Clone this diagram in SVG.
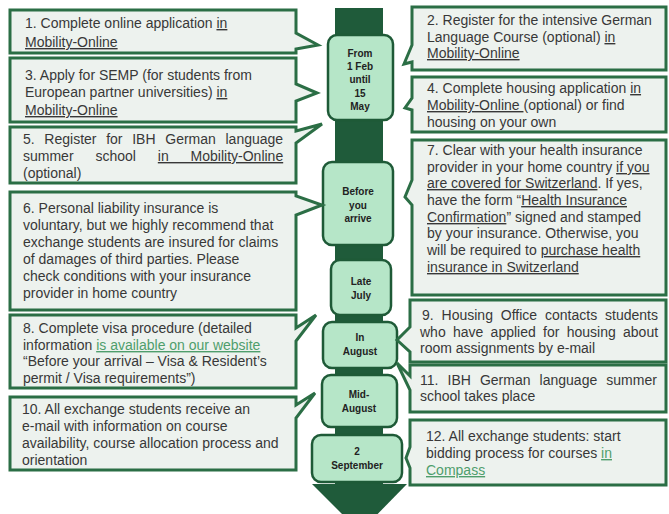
<svg xmlns="http://www.w3.org/2000/svg" width="669" height="514" viewBox="0 0 669 514">
<style>
.co{fill:#edf2ee;stroke:#2b6e45;stroke-width:3;stroke-linejoin:miter}
.dt{fill:#b6e6c8;stroke:#1e5a37;stroke-width:2.5}
.t{font-family:"Liberation Sans",Arial,sans-serif;font-size:14px;fill:#383838}
.d{font-family:"Liberation Sans",Arial,sans-serif;font-size:10px;font-weight:bold;fill:#222;text-anchor:middle}
.u{text-decoration:underline}
.g{fill:#4f9e6c;text-decoration:underline}
.bar{fill:#1f5b3a}
</style>
<rect width="669" height="514" fill="#ffffff"/>
<g id="connectors">
<rect class="bar" x="335" y="8" width="48" height="482"/>
<polygon class="bar" points="312,484 407,484 360,532"/>
</g>
<g id="d1"><rect class="dt" x="328" y="35" width="65" height="85" rx="9"/>
<text class="d" x="360"><tspan x="360" y="57">From</tspan><tspan x="360" y="70">1 Feb</tspan><tspan x="360" y="83">until</tspan><tspan x="360" y="97">15</tspan><tspan x="360" y="110">May</tspan></text></g>
<g id="d2"><rect class="dt" x="323" y="162" width="70" height="83" rx="9"/>
<text class="d"><tspan x="358" y="195">Before</tspan><tspan x="358" y="209">you</tspan><tspan x="358" y="222">arrive</tspan></text></g>
<g id="d3"><rect class="dt" x="331" y="260" width="60" height="55" rx="9"/>
<text class="d"><tspan x="361" y="285">Late</tspan><tspan x="361" y="299">July</tspan></text></g>
<g id="d4"><rect class="dt" x="323" y="322" width="74" height="46" rx="9"/>
<text class="d"><tspan x="360" y="341">In</tspan><tspan x="360" y="355">August</tspan></text></g>
<g id="d5"><rect class="dt" x="322" y="375" width="75" height="52" rx="9"/>
<text class="d"><tspan x="359" y="398">Mid-</tspan><tspan x="359" y="412">August</tspan></text></g>
<g id="d6"><rect class="dt" x="312" y="435" width="90" height="47" rx="9"/>
<text class="d"><tspan x="357" y="455">2</tspan><tspan x="357" y="469">September</tspan></text></g>

<g id="n1"><path class="co" d="M10,10 H296 V33 L318,45 L296,49 V53 H10 Z"/>
<text class="t"><tspan x="25" y="28">1. Complete online application <tspan class="u">in</tspan></tspan><tspan x="25" y="47" class="u">Mobility-Online</tspan></text></g>
<g id="n3"><path class="co" d="M10,58 H296 V84 L317,93 L296,101 V122 H10 Z"/>
<text class="t"><tspan x="25" y="80">3. Apply for SEMP (for students from</tspan><tspan x="25" y="97">European partner universities) <tspan class="u">in</tspan></tspan><tspan x="25" y="115" class="u">Mobility-Online</tspan></text></g>
<g id="n5"><path class="co" d="M10,127 H296 V131 L322,124 L296,143 V183 H10 Z"/>
<text class="t"><tspan x="23" y="144" word-spacing="5.8">5. Register for IBH German language</tspan><tspan x="23" y="161" word-spacing="18">summer school <tspan class="u">in Mobility-Online</tspan></tspan><tspan x="23" y="178">(optional)</tspan></text></g>
<g id="n6"><path class="co" d="M10,192 H296 V196 L322,205 L296,215 V310 H10 Z"/>
<text class="t"><tspan x="23" y="213">6. Personal liability insurance is</tspan><tspan x="23" y="230">voluntary, but we highly recommend that</tspan><tspan x="23" y="247">exchange students are insured for claims</tspan><tspan x="23" y="264">of damages of third parties. Please</tspan><tspan x="23" y="281">check conditions with your insurance</tspan><tspan x="23" y="298">provider in home country</tspan></text></g>
<g id="n8"><path class="co" d="M10,315 H296 V328 L316,315 L296,341 V388 H10 Z"/>
<text class="t"><tspan x="23" y="333">8. Complete visa procedure (detailed</tspan><tspan x="23" y="350">information <tspan class="g">is available on our website</tspan></tspan><tspan x="23" y="366">“Before your arrival – Visa &amp; Resident’s</tspan><tspan x="23" y="383">permit / Visa requirements”)</tspan></text></g>
<g id="n10"><path class="co" d="M10,397 H296 V405 L315,393 L296,418 V470 H10 Z"/>
<text class="t"><tspan x="22" y="414">10. All exchange students receive an</tspan><tspan x="22" y="431">e-mail with information on course</tspan><tspan x="22" y="448">availability, course allocation process and</tspan><tspan x="22" y="465">orientation</tspan></text></g>

<g id="n2"><path class="co" d="M412,7 H666 V70 H412 V62 L404,64 L412,45 Z"/>
<text class="t"><tspan x="427" y="25">2. Register for the intensive German</tspan><tspan x="427" y="42">Language Course (optional) <tspan class="u">in</tspan></tspan><tspan x="427" y="58" class="u">Mobility-Online</tspan></text></g>
<g id="n4"><path class="co" d="M412,77 H666 V132 H412 V110 L405,108 L412,98 Z"/>
<text class="t"><tspan x="427" y="93">4. Complete housing application <tspan class="u">in</tspan></tspan><tspan x="427" y="110"><tspan class="u">Mobility-Online </tspan> (optional) or find</tspan><tspan x="427" y="127">housing on your own</tspan></text></g>
<g id="n7"><path class="co" d="M412,140 H666 V295 H412 V205 L405,197 L412,180 Z"/>
<text class="t"><tspan x="427" y="155">7. Clear with your health insurance</tspan><tspan x="427" y="172">provider in your home country <tspan class="u">if you</tspan></tspan><tspan x="427" y="188"><tspan class="u">are covered for Switzerland</tspan>. If yes,</tspan><tspan x="427" y="205">have the form “<tspan class="u">Health Insurance</tspan></tspan><tspan x="427" y="222"><tspan class="u">Confirmation</tspan>” signed and stamped</tspan><tspan x="427" y="238">by your insurance. Otherwise, you</tspan><tspan x="427" y="255">will be required to <tspan class="u">purchase health</tspan></tspan><tspan x="427" y="272" class="u">insurance in Switzerland</tspan></text></g>
<g id="n9"><path class="co" d="M410,300 H666 V362 H410 V352 L397,340 L410,327 Z"/>
<text class="t"><tspan x="422" y="320" word-spacing="4">9. Housing Office contacts students</tspan><tspan x="420" y="337" word-spacing="3.4">who have applied for housing about</tspan><tspan x="420" y="353">room assignments by e-mail</tspan></text></g>
<g id="n11"><path class="co" d="M410,365 H666 V412 H410 V390 L397,363 L410,376 Z"/>
<text class="t"><tspan x="420" y="385" word-spacing="5.2">11. IBH German language summer</tspan><tspan x="420" y="401">school takes place</tspan></text></g>
<g id="n12"><path class="co" d="M410,420 H666 V485 H410 V468 L406,458 L410,447 Z"/>
<text class="t"><tspan x="426" y="441">12. All exchange students: start</tspan><tspan x="426" y="458">bidding process for courses <tspan class="g">in</tspan></tspan><tspan x="426" y="475" class="g">Compass</tspan></text></g>
</svg>
